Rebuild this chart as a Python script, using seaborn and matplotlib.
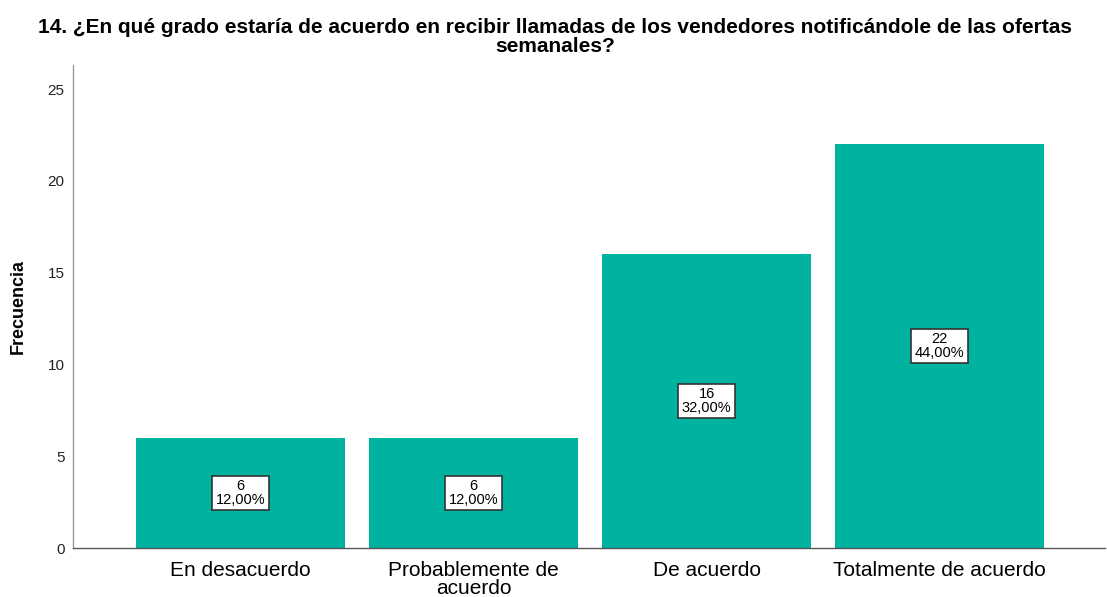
import matplotlib
matplotlib.use("Agg")
import matplotlib.pyplot as plt
import seaborn as sns
import pandas as pd

categories = ["En desacuerdo", "Probablemente de\nacuerdo", "De acuerdo", "Totalmente de acuerdo"]
counts = [6, 6, 16, 22]
percents = ["12,00%", "12,00%", "32,00%", "44,00%"]
title = "14. ¿En qué grado estaría de acuerdo en recibir llamadas de los vendedores notificándole de las ofertas\nsemanales?"

sns.set_style("white")
plt.rcParams['font.family'] = ['Liberation Sans', 'DejaVu Sans']
plt.rcParams['text.color'] = 'black'

df = pd.DataFrame({"cat": categories, "n": counts})

fig = plt.figure(figsize=(11.07, 5.97), dpi=100)
ax = fig.add_axes([73/1107, 1 - 548/597, (1105-73)/1107, (548-65)/597])

sns.barplot(data=df, x="cat", y="n", color="#00B3A0", saturation=1, width=0.897,
            linewidth=0, ax=ax)

ax.set_xlim(-0.719, 3.71)
ax.set_ylim(0, (548-65)/18.36)
ax.set_yticks([0, 5, 10, 15, 20, 25])
ax.tick_params(axis='y', labelsize=11, length=0, pad=6, labelcolor="#222222")
ax.tick_params(axis='x', labelsize=15, length=0, pad=9, labelcolor="black")
for lab in ax.get_xticklabels():
    lab.set_linespacing(0.95)
ax.set_xlabel("")
ax.set_ylabel("Frecuencia", fontsize=13, fontweight="bold", color="black")
ax.yaxis.set_label_coords((27 - 73) / (1105 - 73), 0.5)

for s in ["top", "right"]:
    ax.spines[s].set_visible(False)
ax.spines["left"].set_color("#999999")
ax.spines["bottom"].set_color("#555555")
ax.spines["left"].set_linewidth(1.0)
ax.spines["bottom"].set_linewidth(1.0)

for i, (c, p) in enumerate(zip(counts, percents)):
    ax.text(i, c / 2, f"{c}\n{p}", ha="center", va="center", fontsize=10.5,
            linespacing=0.95, color="black",
            bbox=dict(boxstyle="square,pad=0.25", facecolor="white", edgecolor="#333333", linewidth=1.2))

fig.text(555/1107, 1 - 37/597, title, ha="center", va="center", fontsize=15,
         fontweight="bold", linespacing=1.0, color="black")

fig.savefig("out.png", dpi=100)
